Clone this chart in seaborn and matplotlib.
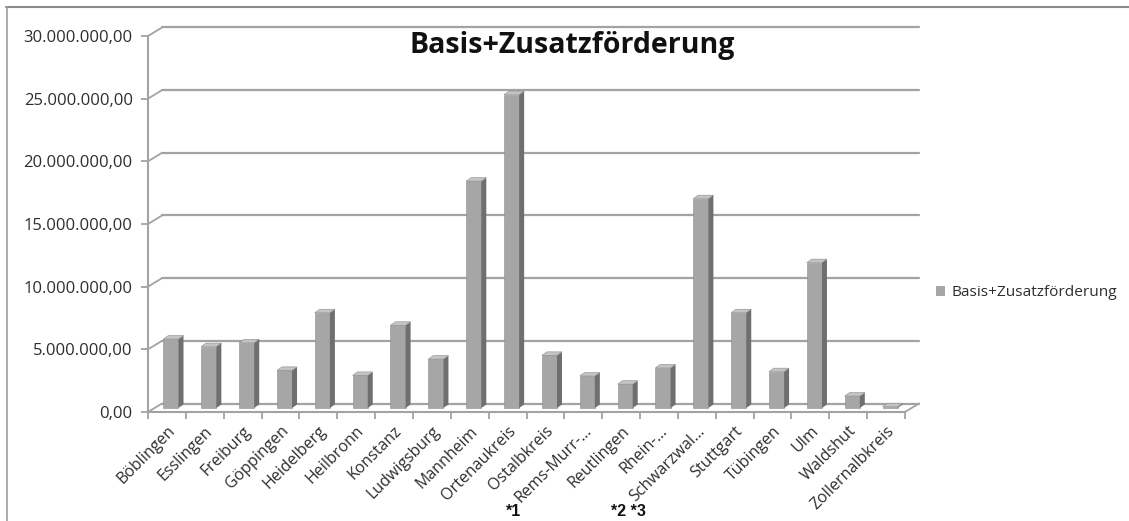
import matplotlib
matplotlib.use("Agg")
import matplotlib.pyplot as plt
import seaborn as sns
import pandas as pd
from matplotlib.patches import Polygon
from matplotlib.lines import Line2D
from matplotlib.ticker import FixedLocator, FuncFormatter
from matplotlib.transforms import ScaledTranslation

# Funding per district
districts = ["Böblingen", "Esslingen", "Freiburg", "Göppingen", "Heidelberg",
             "Heilbronn", "Konstanz", "Ludwigsburg", "Mannheim", "Ortenaukreis",
             "Ostalbkreis", "Rems-Murr-...", "Reutlingen", "Rhein-...",
             "Schwarzwal...", "Stuttgart", "Tübingen", "Ulm", "Waldshut",
             "Zollernalbkreis"]
funding = [5.5e6, 4.9e6, 5.2e6, 3.0e6, 7.6e6,
           2.6e6, 6.6e6, 3.9e6, 18.1e6, 25.0e6,
           4.2e6, 2.55e6, 1.9e6, 3.2e6, 16.7e6,
           7.6e6, 2.9e6, 11.6e6, 0.95e6, 0.1e6]
series_name = "Basis+Zusatzförderung"
y_ticks = [0, 5e6, 10e6, 15e6, 20e6, 25e6, 30e6]
footnotes = [("*1", 514), ("*2 *3", 628)]

df = pd.DataFrame({"Kreis": districts, "Betrag": funding})

sns.set_theme(style="white")
plt.rcParams["font.family"] = ["Open Sans", "DejaVu Sans"]

W, H = 1129, 521
fig = plt.figure(figsize=(W / 100, H / 100), dpi=100)
fig.patch.set_facecolor("white")

# plot area in pixels (front plane)
x0, x1 = 148, 905
y_top, y_bot = 36, 412
ax = fig.add_axes([x0 / W, 1 - y_bot / H, (x1 - x0) / W, (y_bot - y_top) / H])
ax.set_facecolor("none")

FRONT = "#a6a6a6"
SIDE = "#6f6f6f"
TOP = "#c4c4c4"
GRID = "#a3a3a3"
TEXT = "#2e2e2e"

sns.barplot(data=df, x="Kreis", y="Betrag", color=FRONT, width=0.40,
            saturation=1, ax=ax, zorder=3, label=series_name)
ax.set_xlim(-0.5, len(districts) - 0.5)
ax.set_ylim(0, 30e6)

px_x = len(districts) / (x1 - x0)
px_y = 30e6 / (y_bot - y_top)

# depth of the back wall and of the bars
gdx, gdy = 14 * px_x, 8.5 * px_y
bdx, bdy = 4 * px_x, 4 * px_y
sdx, sdy = 5 * px_x, 3.5 * px_y

# back-wall gridlines with the connectors on the side wall
for v in y_ticks:
    ax.add_line(Line2D([-0.5 + gdx, len(districts) - 0.5 + gdx], [v + gdy, v + gdy],
                       color=GRID, lw=1.6, zorder=1, clip_on=False))
    ax.add_line(Line2D([-0.5, -0.5 + gdx], [v, v + gdy],
                       color=GRID, lw=1.3, zorder=1, clip_on=False))
# right edge of the floor
ax.add_line(Line2D([len(districts) - 0.5, len(districts) - 0.5 + gdx], [0, gdy],
                   color=GRID, lw=1.3, zorder=1, clip_on=False))

# bars: shift to mid-depth and add side and top faces
for p in ax.patches:
    p.set_transform(ax.transData + ScaledTranslation(4 / 100, 4 / 100, fig.dpi_scale_trans))
    p.set_edgecolor("#8c8c8c")
    p.set_linewidth(0.4)
    p.set_clip_on(False)
    xl = p.get_x() + bdx
    xr = p.get_x() + p.get_width() + bdx
    h = p.get_height() + bdy
    b = bdy
    side = Polygon([(xr, b), (xr + sdx, b + sdy), (xr + sdx, h + sdy), (xr, h)],
                   closed=True, facecolor=SIDE, edgecolor="none", zorder=3, clip_on=False)
    top = Polygon([(xl, h), (xr, h), (xr + sdx, h + sdy), (xl + sdx, h + sdy)],
                  closed=True, facecolor=TOP, edgecolor="#8c8c8c", lw=0.4,
                  zorder=3, clip_on=False)
    ax.add_patch(side)
    ax.add_patch(top)

# axes styling
for s in ["top", "right"]:
    ax.spines[s].set_visible(False)
for s in ["left", "bottom"]:
    ax.spines[s].set_color(GRID)
    ax.spines[s].set_linewidth(1.5)

ax.yaxis.set_major_locator(FixedLocator(y_ticks))
ax.yaxis.set_major_formatter(FuncFormatter(
    lambda v, _: f"{v:,.2f}".replace(",", "X").replace(".", ",").replace("X", ".")))
ax.tick_params(axis="y", direction="out", length=5, width=1.3, color=GRID,
               labelsize=12, labelcolor=TEXT, pad=6, left=True)

ax.set_xticks(range(len(districts)))
ax.set_xticklabels(districts, rotation=45, ha="right", rotation_mode="anchor")
ax.tick_params(axis="x", which="major", length=0, labelsize=11.5, labelcolor=TEXT, pad=8)
ax.set_xticks([i - 0.5 for i in range(len(districts) + 1)], minor=True)
ax.tick_params(axis="x", which="minor", direction="out", length=5, width=1.3,
               color=GRID, bottom=True)
ax.set_xlabel("")
ax.set_ylabel("")
leg = ax.get_legend()
if leg is not None:
    leg.remove()

# title
fig.text(572 / W, 1 - 45 / H, series_name, ha="center", va="center",
         fontsize=20.5, fontweight="bold", color="#111111")

# legend
fig.legend(handles=[plt.Rectangle((0, 0), 1, 1, facecolor=FRONT, edgecolor="none")],
           labels=[series_name], loc="center left",
           bbox_to_anchor=(922 / W, 1 - 293 / H), frameon=False, fontsize=11.1,
           handlelength=0.6, handleheight=0.6, handletextpad=0.4,
           labelcolor=TEXT)

# footnote markers under the category labels
for txt, xp in footnotes:
    fig.text(xp / W, 1 - 512 / H, txt, ha="center", va="center", fontsize=11.5,
             fontweight="bold", color="#111111", family=["Liberation Sans", "DejaVu Sans"])

# chart frame (top and left edges)
fig.add_artist(Line2D([6 / W, 1], [1 - 6.5 / H, 1 - 6.5 / H], color="#8a8a8a", lw=1.5))
fig.add_artist(Line2D([6.5 / W, 6.5 / W], [0, 1 - 6.5 / H], color="#a0a0a0", lw=1.2))

fig.savefig("out.png", dpi=100, facecolor="white")
